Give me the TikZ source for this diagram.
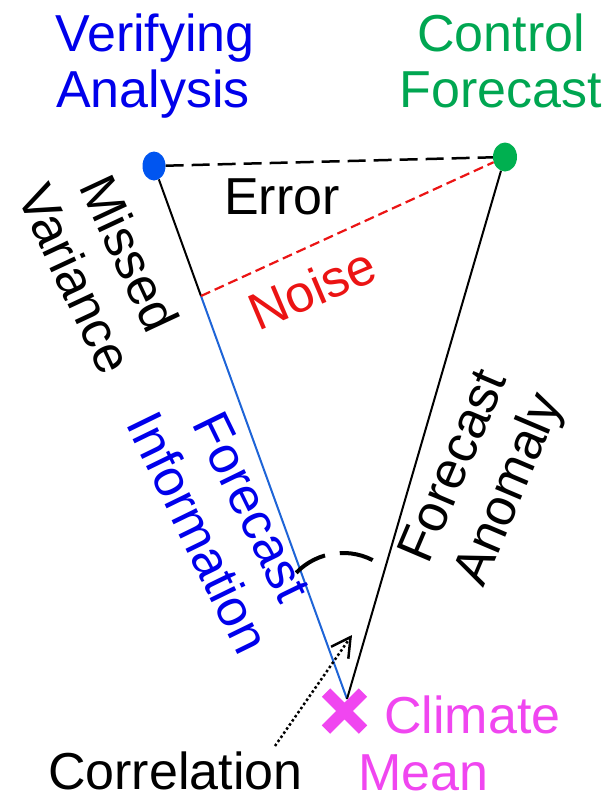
\documentclass[tikz,border=0pt]{standalone}
\usepackage{fontspec}
\setmainfont{Liberation Sans}
\usetikzlibrary{shapes.geometric,shapes.misc,arrows.meta}
\definecolor{vblue}{RGB}{0,0,235}
\definecolor{dotblue}{RGB}{0,85,240}
\definecolor{lineblue}{RGB}{30,100,215}
\definecolor{cgreen}{RGB}{0,166,81}
\definecolor{dotgreen}{RGB}{0,176,80}
\definecolor{nred}{RGB}{235,20,20}
\definecolor{cmag}{RGB}{240,70,240}
\begin{document}
\begin{tikzpicture}[x=1pt,y=-1pt,
  lbl/.style={inner sep=0pt, font=\fontsize{52}{60}\selectfont, align=center},
  lblsm/.style={inner sep=0pt, font=\fontsize{52}{58}\selectfont},
  dotnode/.style={ellipse, inner sep=0pt, minimum width=23pt, minimum height=29pt},
  solidline/.style={line width=2pt},
  errline/.style={line width=2.5pt, dash pattern=on 18pt off 8pt},
  noiseline/.style={nred, line width=2.2pt, dash pattern=on 10pt off 5pt},
  anglearc/.style={line width=4pt, dash pattern=on 34pt off 15pt},
  corrarrow/.style={line width=2.5pt, dash pattern=on 2.5pt off 2.5pt,
    -{Straight Barb[length=19pt,width=21pt]}}
]
\useasboundingbox (0,0) rectangle (613,795);

% points
\coordinate (apex) at (347,699);
\coordinate (split) at (201,296);
\node[dotnode, fill=dotblue] (va) at (154,166) {};
\node[dotnode, fill=dotgreen, minimum width=24pt] (cf) at (505,157) {};

% triangle
\draw[errline] (va) -- (cf);
\draw[solidline] (va) -- (split);
\draw[solidline, lineblue] (split) -- (apex);
\draw[solidline] (cf) -- (apex);
\draw[noiseline] (split) -- (cf);

% angle arc
\draw[anglearc] (296.2,572.8) arc[start angle=-136, end angle=-58, radius=65];

% climate mean marker
\node[cross out, draw=cmag, line width=12pt, minimum size=25pt, inner sep=0pt] (cm) at (344.5,711) {};

% correlation arrow
\coordinate (cs) at (275,746);
\coordinate (ct) at (352,635);
\draw[corrarrow] (cs) -- (ct);

% labels
\node[lbl, text=vblue, anchor=base] (va1) at (155,51) {Verifying};
\node[lbl, text=vblue, anchor=base] (va2) at (153,107) {Analysis};
\node[lbl, text=cgreen, anchor=base] (cf1) at (501,51) {Control};
\node[lbl, text=cgreen, anchor=base] (cf2) at (501,107) {Forecast};
\node[lblsm, anchor=base] (err) at (282,214) {Error};
\node[lblsm, text=nred, rotate=23] (noise) at (312,288) {Noise};
\node[lbl, rotate=-65] (mv) at (103,266) {Missed\\Variance};
\node[lbl, text=vblue, rotate=-64] (fi) at (225,520) {Forecast\\Information};
\node[lbl, rotate=67] (fa) at (484,479) {Forecast\\Anomaly};
\node[lbl, text=cmag, anchor=base west] (cl1) at (384,733) {Climate};
\node[lbl, text=cmag, anchor=base west] (cl2) at (358,790) {Mean};
\node[lbl, anchor=base west] (corr) at (48,789) {Correlation};
\end{tikzpicture}
\end{document}
